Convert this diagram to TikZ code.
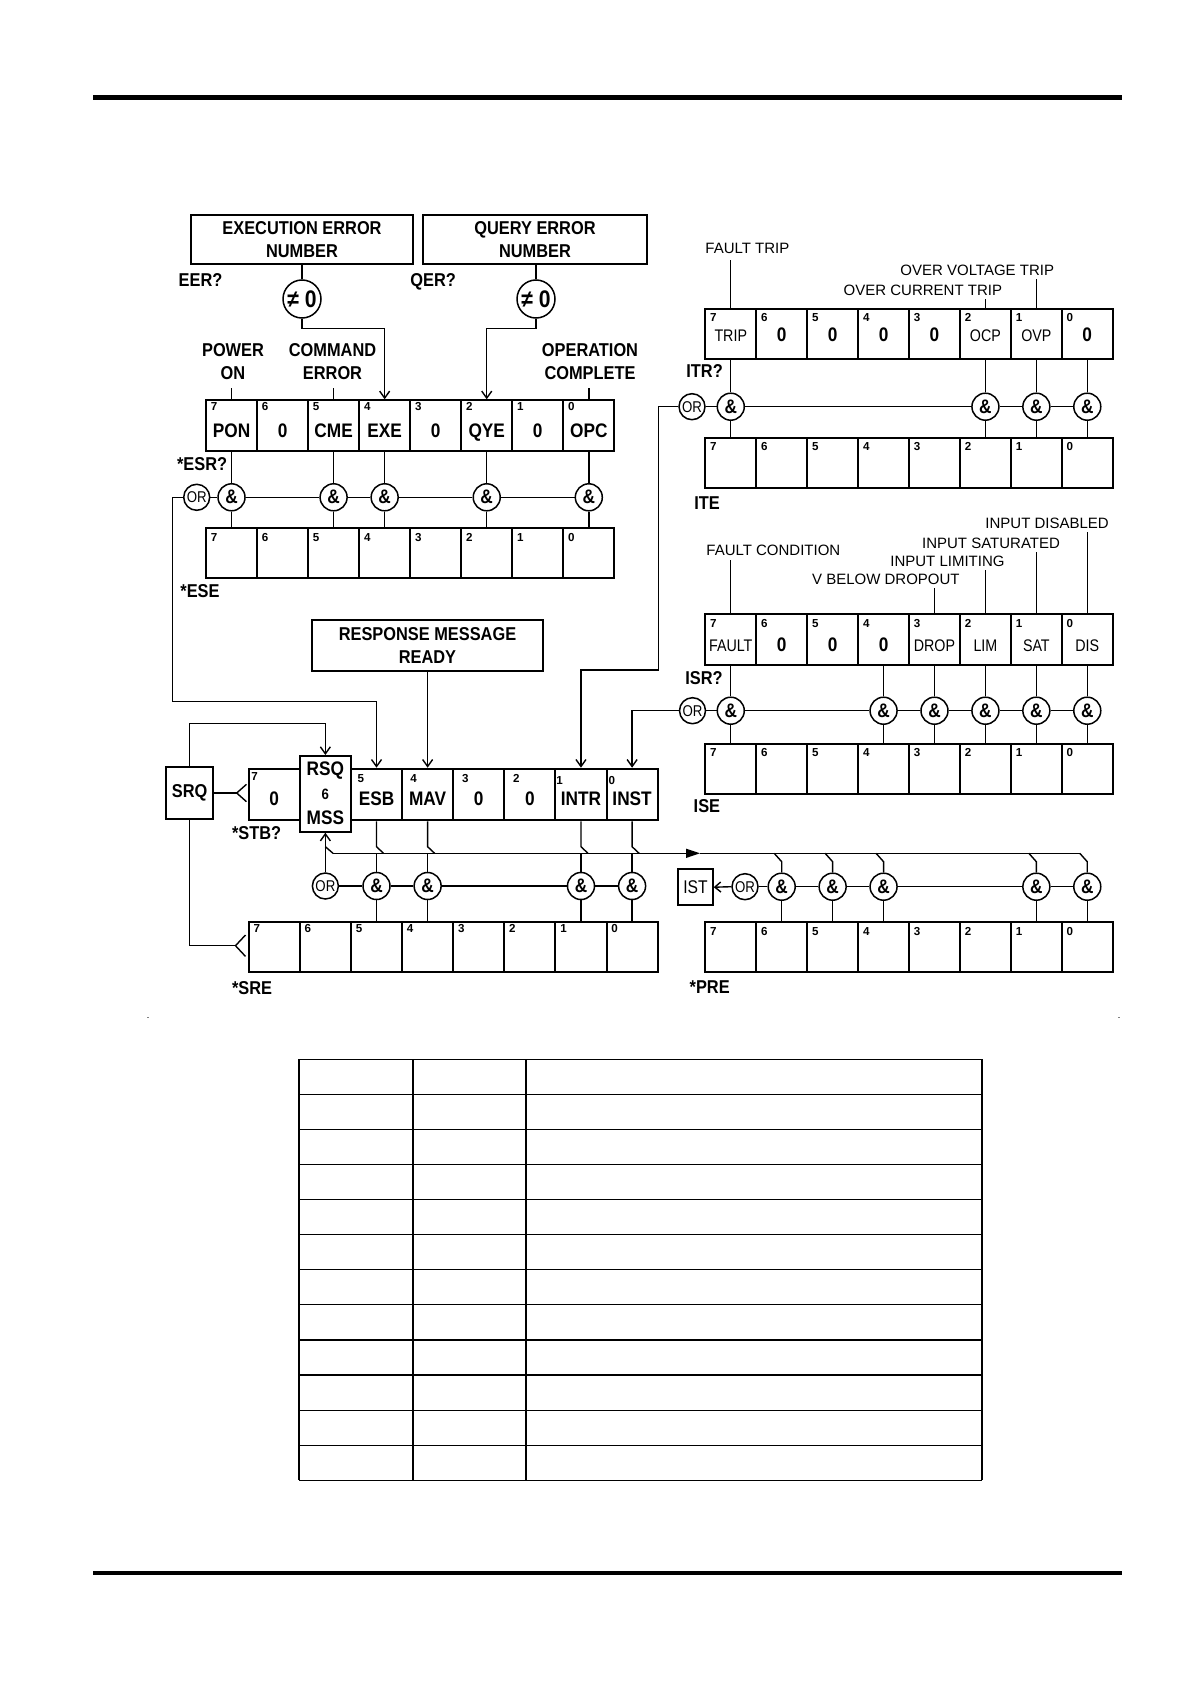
\documentclass[tikz,border=0pt]{standalone}
\usepackage{fontspec}
\setmainfont{Liberation Sans}
\newfontfamily\NarBold{Liberation Sans}[FakeStretch=0.88]
\newfontfamily\NarReg{Liberation Sans}[FakeStretch=0.85]
\usetikzlibrary{arrows.meta}
\newcommand\FBold{\NarBold\bfseries\fontsize{9.3}{11.5}\selectfont}
\newcommand\FVal{\NarBold\bfseries\fontsize{9.8}{11.5}\selectfont}
\newcommand\FDig{\bfseries\fontsize{5.8}{6.5}\selectfont}
\newcommand\FReg{\fontsize{7.5}{9}\selectfont}
\newcommand\FCell{\NarReg\fontsize{8.4}{9}\selectfont}
\newcommand\FOr{\NarReg\fontsize{7.8}{8}\selectfont}
\newcommand\Reg[6]{%
  \foreach \i in {0,...,7}{%
    \pgfmathtruncatemacro\bitn{7-\i}%
    \node[regcell, minimum width=#4*0.5pt, minimum height=#5*0.5pt] (#1\bitn) at ({#2+#4*\i},#3) {};
    \node[dig] (#1d\bitn) at ({#2+#4*\i+5.5},{#3+#6}) {\bitn};
  }}
\begin{document}
\begin{tikzpicture}[x=0.5pt,y=-0.5pt,
  regcell/.style={draw, line width=1pt, inner sep=0pt, anchor=north west},
  dig/.style={inner sep=0pt, anchor=base west, font=\FDig},
  val/.style={inner sep=0pt, anchor=base, font=\FVal},
  cval/.style={inner sep=0pt, anchor=base, font=\FCell},
  lab/.style={inner sep=0pt, anchor=base west, font=\FBold},
  rlab/.style={inner sep=0pt, anchor=base west, font=\FReg},
  mlab/.style={inner sep=0pt, anchor=south, align=center, font=\FBold},
  andg/.style={draw, circle, line width=0.75pt, inner sep=0pt, minimum size=13.5pt, font=\FVal},
  org/.style={draw, circle, line width=0.75pt, inner sep=0pt, minimum size=13pt, font=\FOr},
  neq/.style={draw, circle, line width=0.75pt, inner sep=0pt, minimum size=19pt, font=\NarBold\bfseries\fontsize{12}{13}\selectfont},
  tbox/.style={draw, line width=1pt, inner sep=0pt, align=center, font=\FBold},
  wire/.style={line width=0.7pt},
  arr/.style={wire, -{Straight Barb[length=3.5pt,width=5pt]}},
  tbl/.style={line width=0.6pt}]
\fill[white] (0,0) rectangle (1192,1685);
\useasboundingbox (0,0) rectangle (1192,1685);
% rules and marks
\fill (93,95) rectangle (1122,100);
\fill (93,1571) rectangle (1122,1575);
\fill[gray] (146.5,1016.8) rectangle (148.5,1018);
\fill[gray] (1118,1016.8) rectangle (1120,1018);

% ---------------- ESR group
\node[tbox, minimum width=111.3pt, minimum height=24.5pt] (eerbox) at (302,239.5) {EXECUTION ERROR\\NUMBER};
\node[tbox, minimum width=111.7pt, minimum height=24.5pt] (qerbox) at (535,239.5) {QUERY ERROR\\NUMBER};
\node[lab] (eerq) at (178.3,286.5) {EER?};
\node[lab] (qerq) at (410,286.5) {QER?};
\node[neq] (neqE) at (302,299) {≠ 0};
\node[neq] (neqQ) at (536,299) {≠ 0};
\Reg{esr}{205}{399.3}{51.04}{50.7}{11.5}
\coordinate (yEV) at (0,437.3);
\foreach \b/\t in {7/PON,6/0,5/CME,4/EXE,3/0,2/QYE,1/0,0/OPC}
  \node[val] (esrv\b) at (esr\b.north |- yEV) {\t};
\node[mlab] (lPON) at (233,380) {POWER\\ON};
\node[mlab] (lCME) at (332.5,380) {COMMAND\\ERROR};
\node[mlab] (lOPC) at (590,380) {OPERATION\\COMPLETE};
\coordinate (yT1) at (0,388);
\foreach \b in {7,5,0} \draw[wire] (esr\b.north |- yT1) -- (esr\b.north);
\coordinate (yJ) at (0,328.3);
\draw[wire] (neqE.north |- eerbox.south) -- (neqE.north);
\draw[arr] (neqE.south) -- (neqE.south |- yJ) -| (esr4.north);
\draw[wire] (neqQ.north |- qerbox.south) -- (neqQ.north);
\draw[arr] (neqQ.south) -- (neqQ.south |- yJ) -| (esr2.north);
\node[lab] (esrq) at (176.7,470) {*ESR?};
\coordinate (yA1) at (0,497.3);
\node[org] (or1) at (196.7,497.3) {OR};
\foreach \b in {7,5,4,2,0} \node[andg] (ea\b) at (esr\b.south |- yA1) {\&};
\Reg{ese}{205}{527.3}{51.04}{49.4}{14}
\node[lab] (eseq) at (180,597.5) {*ESE};
\foreach \b in {7,5,4,2,0} {\draw[wire] (esr\b.south) -- (ea\b.north); \draw[wire] (ea\b.south) -- (ese\b.north);}
\draw[wire] (or1.east) -- (ea7.west) (ea7.east) -- (ea5.west) (ea5.east) -- (ea4.west) (ea4.east) -- (ea2.west) (ea2.east) -- (ea0.west);

% ---------------- ITR group
\node[rlab] (lFT) at (705,254) {FAULT TRIP};
\node[rlab] (lOVT) at (900,275) {OVER VOLTAGE TRIP};
\node[rlab] (lOCT) at (843.3,295) {OVER CURRENT TRIP};
\Reg{itr}{704.3}{308.3}{50.93}{50}{12.7}
\coordinate (yIV) at (0,341.7);
\foreach \b in {6,5,4,3,0} \node[val] (itrv\b) at (itr\b.north |- yIV) {0};
\foreach \b/\t in {7/TRIP,2/OCP,1/OVP} \node[cval] (itrv\b) at (itr\b.north |- yIV) {\t};
\coordinate (yI1) at (0,260); \coordinate (yI2) at (0,279); \coordinate (yI3) at (0,299);
\draw[wire] (itr7.north |- yI1) -- (itr7.north);
\draw[wire] (itr1.north |- yI2) -- (itr1.north);
\draw[wire] (itr2.north |- yI3) -- (itr2.north);
\node[lab] (itrq) at (686,377) {ITR?};
\coordinate (yA2) at (0,406.7);
\node[org] (or4) at (692,406.7) {OR};
\foreach \b in {7,2,1,0} \node[andg] (ia\b) at (itr\b.south |- yA2) {\&};
\Reg{ite}{704.3}{436.7}{50.93}{50}{13.3}
\node[lab] (iteq) at (694,509) {ITE};
\foreach \b in {7,2,1,0} {\draw[wire] (itr\b.south) -- (ia\b.north); \draw[wire] (ia\b.south) -- (ite\b.north);}
\draw[wire] (or4.east) -- (ia7.west) (ia7.east) -- (ia2.west) (ia2.east) -- (ia1.west) (ia1.east) -- (ia0.west);

% ---------------- ISR group
\node[rlab] (lID) at (985,528.3) {INPUT DISABLED};
\node[rlab] (lIS) at (921.7,548.3) {INPUT SATURATED};
\node[rlab] (lFC) at (706,555) {FAULT CONDITION};
\node[rlab] (lIL) at (890,566) {INPUT LIMITING};
\node[rlab] (lVB) at (811.7,584.3) {V BELOW DROPOUT};
\Reg{isr}{704.3}{613.3}{50.93}{50.7}{14}
\coordinate (ySV) at (0,651.7);
\foreach \b in {6,5,4} \node[val] (isrv\b) at (isr\b.north |- ySV) {0};
\foreach \b/\t in {7/FAULT,3/DROP,2/LIM,1/SAT,0/DIS} \node[cval] (isrv\b) at (isr\b.north |- ySV) {\t};
\coordinate (yS0) at (0,532); \coordinate (yS1) at (0,552); \coordinate (yS7) at (0,560);
\coordinate (yS2) at (0,570); \coordinate (yS3) at (0,588);
\foreach \b in {0,1,7,2,3} \draw[wire] (isr\b.north |- yS\b) -- (isr\b.north);
\node[lab] (isrq) at (685,684) {ISR?};
\coordinate (yA3) at (0,710.7);
\node[org] (or5) at (692.5,710.7) {OR};
\foreach \b in {7,4,3,2,1,0} \node[andg] (sa\b) at (isr\b.south |- yA3) {\&};
\Reg{ise}{704.3}{742.7}{50.93}{50.6}{14}
\node[lab] (iseq) at (693.3,812) {ISE};
\foreach \b in {7,4,3,2,1,0} {\draw[wire] (isr\b.south) -- (sa\b.north); \draw[wire] (sa\b.south) -- (ise\b.north);}
\draw[wire] (or5.east) -- (sa7.west) (sa7.east) -- (sa4.west) (sa4.east) -- (sa3.west) (sa3.east) -- (sa2.west) (sa2.east) -- (sa1.west) (sa1.east) -- (sa0.west);

% ---------------- STB
\node[tbox, minimum width=115.2pt, minimum height=25.5pt] (rmr) at (427.5,645.5) {RESPONSE MESSAGE\\READY};
\foreach \i in {0,2,3,4,5,6,7}{%
  \pgfmathtruncatemacro\bitn{7-\i}%
  \node[regcell, minimum width=25.56pt, minimum height=25.8pt] (stb\bitn) at ({247.7+51.12*\i},767.7) {};}
\node[regcell, minimum width=25.56pt, minimum height=37.85pt] (stb6) at (298.82,755) {};
\node[dig] (stbd7) at (251,780) {7};
\node[dig] (stbd5) at (357.3,782.7) {5};
\node[dig] (stbd4) at (410,782.7) {4};
\node[dig] (stbd3) at (461.7,782.7) {3};
\node[dig] (stbd2) at (512.7,782.7) {2};
\node[dig] (stbd1) at (556,784) {1};
\node[dig] (stbd0) at (608.3,784) {0};
\coordinate (yBV) at (0,805);
\foreach \b/\t in {7/0,5/ESB,4/MAV,3/0,2/0,1/INTR,0/INST} \node[val] (stbv\b) at (stb\b.north |- yBV) {\t};
\coordinate (yR1) at (0,775.7); \coordinate (yR2) at (0,799); \coordinate (yR3) at (0,824);
\node[val] (rsq) at (stb6.north |- yR1) {RSQ};
\node[val, font=\NarBold\bfseries\fontsize{7.5}{8}\selectfont] (mss6) at (stb6.north |- yR2) {6};
\node[val] (mss) at (stb6.north |- yR3) {MSS};
\node[tbox, minimum width=23.65pt, minimum height=26.3pt] (srq) at (189.7,793) {SRQ};
\node[lab] (stbq) at (231.7,839) {*STB?};
\coordinate (kS) at (0,723.3);
\draw[arr] (srq.north) -- (srq.north |- kS) -| (stb6.north);
\coordinate (fk1) at (236.7,793); \coordinate (fk1a) at (246.5,784.3); \coordinate (fk1b) at (246.5,801.7);
\draw[wire] (srq.east) -- (fk1);
\draw[wire] (fk1a) -- (fk1) -- (fk1b);
\coordinate (fk2) at (235.5,945.7); \coordinate (fk2a) at (245.5,935); \coordinate (fk2b) at (245.5,956.4);
\draw[wire] (srq.south) |- (fk2);
\draw[wire] (fk2a) -- (fk2) -- (fk2b);
% feeds into STB
\coordinate (k1) at (172.7,701.7);
\draw[arr] (or1.west) -| (k1) -| (stb5.north);
\draw[arr] (stb4.north |- rmr.south) -- (stb4.north);
\coordinate (k3) at (658.3,670);
\draw[arr] (or4.west) -| (k3) -| (stb1.north);
\draw[arr] (or5.west) -| (stb0.north);

% ---------------- SRE group
\coordinate (yA4) at (0,886);
\node[org] (or2) at (stb6.south |- yA4) {OR};
\foreach \b in {5,4,1,0} \node[andg] (ra\b) at (stb\b.south |- yA4) {\&};
\Reg{sre}{247.7}{920.7}{51.12}{50}{12}
\node[lab] (sreq) at (231.7,994) {*SRE};
\draw[arr] (or2.north) -- (stb6.south);
\draw[wire] (or2.east) -- (ra5.west) (ra5.east) -- (ra4.west) (ra4.east) -- (ra1.west) (ra1.east) -- (ra0.west);
\coordinate (yH1) at (0,846.7); \coordinate (yH2) at (0,853.3); \coordinate (yH3) at (0,861.7);
\foreach \b in {5,4,1,0} {
  \draw[wire] (stb\b.south) -- (stb\b.south |- yH1) -- ([xshift=3.5pt]stb\b.south |- yH2);
  \draw[wire] (ra\b.north |- yH2) -- (ra\b.north);
  \draw[wire] (ra\b.south) -- (sre\b.north);
}

% ---------------- PRE group
\coordinate (yA5) at (0,886.7);
\Reg{pre}{704.3}{920.7}{50.93}{50}{14.3}
\foreach \b in {6,5,4,1,0} \node[andg] (pa\b) at (pre\b.north |- yA5) {\&};
\node[org] (or3) at (745,886.7) {OR};
\node[draw, line width=1pt, inner sep=0pt, minimum width=17.2pt, minimum height=17.85pt, font=\NarReg\fontsize{9.2}{10}\selectfont] (ist) at (695.5,887.2) {IST};
\node[lab] (preq) at (689.3,993.3) {*PRE};
\coordinate (hs) at (333,853.3); \coordinate (ha) at (700,853.3);
\draw[wire] (stb6.south |- yH1) -- (hs);
\draw[wire, -{Triangle[length=7pt,width=4.5pt]}] (hs) -- (ha);
\draw[wire] (ha) -- ([xshift=-3.75pt]pa0.north |- yH2);
\foreach \b in {6,5,4,1,0} {
  \draw[wire] ([xshift=-3.75pt]pa\b.north |- yH2) -- (pa\b.north |- yH3) -- (pa\b.north);
  \draw[wire] (pa\b.south) -- (pre\b.north);
}
\draw[wire] (or3.east) -- (pa6.west) (pa6.east) -- (pa5.west) (pa5.east) -- (pa4.west) (pa4.east) -- (pa1.west) (pa1.east) -- (pa0.west);
\draw[wire, -{Straight Barb[length=3pt,width=5pt]}] (or3.west) -- (ist.east);

% ---------------- table
\foreach \r in {0,...,12} \draw[tbl] (299,{1059.3+35.08*\r}) -- (982,{1059.3+35.08*\r});
\foreach \x in {299,413,526,982} \draw[tbl] (\x,1059.3) -- (\x,1480.3);
\end{tikzpicture}
\end{document}
